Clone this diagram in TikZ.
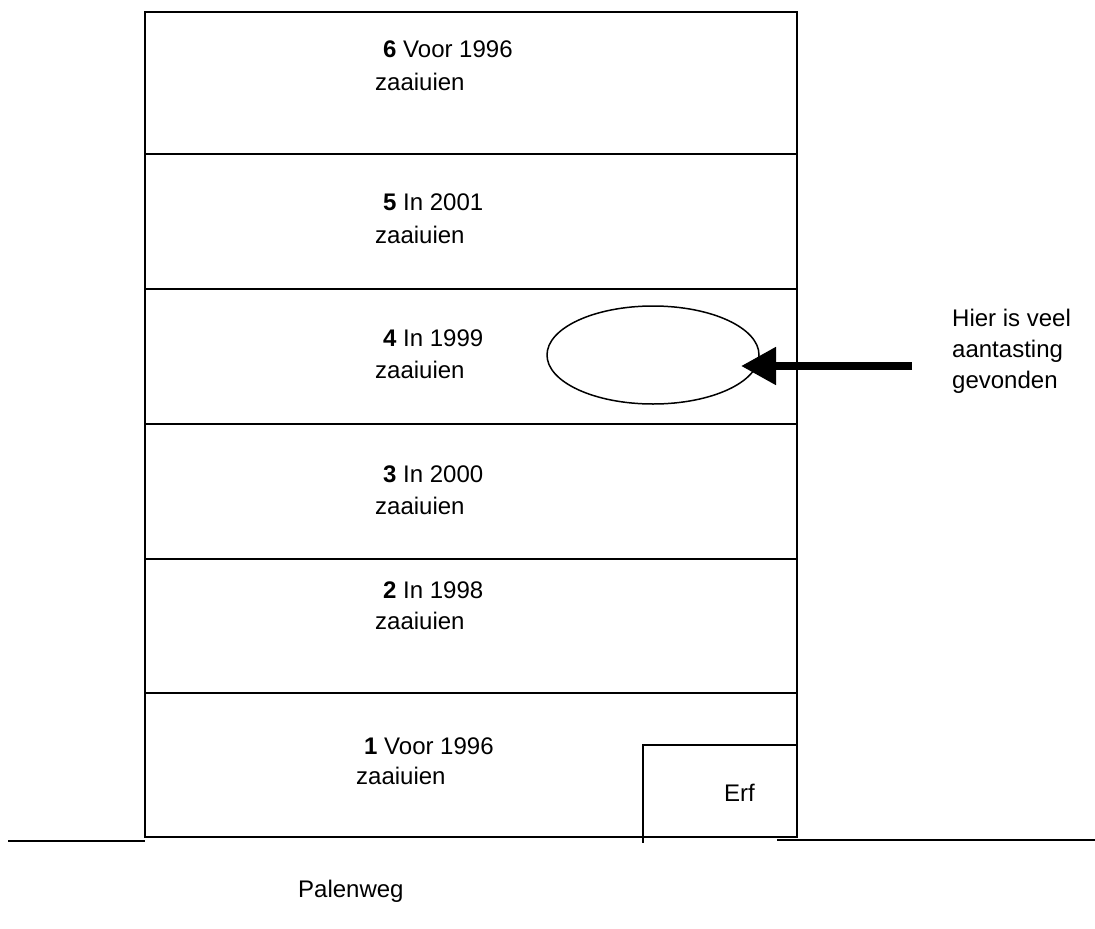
\documentclass[tikz,border=0pt]{standalone}
\usepackage{fontspec}
\setmainfont{Liberation Sans}
\usetikzlibrary{arrows.meta}
\begin{document}
\begin{tikzpicture}[x=1pt,y=-1pt,
  wall/.style={line width=2pt, line cap=rect},
  lbl/.style={anchor=base west, inner sep=0pt, font=\fontsize{24}{33}\selectfont},
  mark/.style={draw, ellipse, line width=1.5pt},
  bigarrow/.style={line width=8pt, -{Triangle[length=35pt,width=36pt]}}]
\useasboundingbox (0,0) rectangle (1095,929);
% field
\draw[wall] (145,12) rectangle (797,837);
\foreach \yy in {154,289,424,559,693} \draw[wall] (145,\yy) -- (797,\yy);
% erf
\draw[wall] (643,842) -- (643,745) -- (797,745);
% road edges
\draw[wall] (9,841) -- (144,841);
\draw[wall] (778,840) -- (1095,840);
% labels
\node[lbl] (s6a) at (383,57) {\textbf{6} Voor 1996};
\node[lbl] (s6b) at (375,90) {zaaiuien};
\node[lbl] (s5a) at (383,210) {\textbf{5} In 2001};
\node[lbl] (s5b) at (375,243) {zaaiuien};
\node[lbl] (s4a) at (383,346) {\textbf{4} In 1999};
\node[lbl] (s4b) at (375,378) {zaaiuien};
\node[lbl] (s3a) at (383,482) {\textbf{3} In 2000};
\node[lbl] (s3b) at (375,514) {zaaiuien};
\node[lbl] (s2a) at (383,598) {\textbf{2} In 1998};
\node[lbl] (s2b) at (375,629) {zaaiuien};
\node[lbl] (s1a) at (364,754) {\textbf{1} Voor 1996};
\node[lbl] (s1b) at (356,784) {zaaiuien};
\node[lbl] (erf) at (724,801) {Erf};
\node[lbl] (road) at (298,897) {Palenweg};
\node[lbl] (n1) at (952,326) {Hier is veel};
\node[lbl] (n2) at (952,357) {aantasting};
\node[lbl] (n3) at (952,388) {gevonden};
% ellipse and arrow
\draw[line width=1.5pt] (653,355) ellipse [x radius=106, y radius=49];
\coordinate (tail) at (912,366);
\coordinate (tip) at (741,366);
\draw[bigarrow] (tail) -- (tip);
\end{tikzpicture}
\end{document}
